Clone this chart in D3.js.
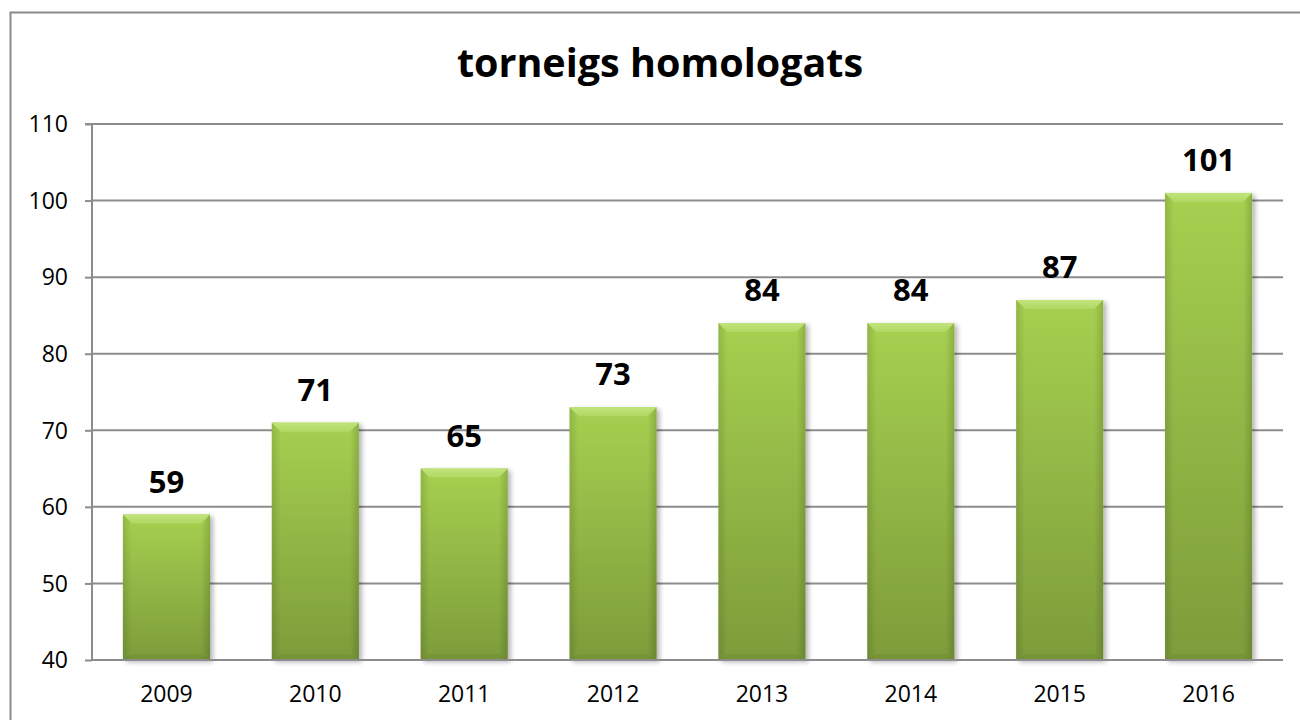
<!DOCTYPE html>
<html><head><meta charset="utf-8">
<script src="https://cdn.jsdelivr.net/npm/d3@7"></script>
<style>body{margin:0;background:#fff}svg{display:block}</style>
</head><body>
<svg id="c" width="1300" height="720"></svg>
<script>
const years = ["2009","2010","2011","2012","2013","2014","2015","2016"];
const counts = [59,71,65,73,84,84,87,101];
const yTicks = [40,50,60,70,80,90,100,110];
const title = "torneigs homologats";

(function(){
const svg = d3.select("#c");
const font = "'Open Sans', sans-serif";
const pL=92,pR=1283,pT=124,pB=660;

// outer border
svg.append("rect").attr("x",10.5).attr("y",12.5).attr("width",1300).attr("height",720)
  .attr("fill","#fff").attr("stroke","#8a8a8a").attr("stroke-width",2);

const defs = svg.append("defs");
const g1 = defs.append("linearGradient").attr("id","bar").attr("x1",0).attr("y1",0).attr("x2",0).attr("y2",1);
g1.append("stop").attr("offset","0%").attr("stop-color","#a6d050");
g1.append("stop").attr("offset","100%").attr("stop-color","#7d9c3a");
const gs = defs.append("linearGradient").attr("id","side").attr("x1",0).attr("y1",0).attr("x2",1).attr("y2",0);
gs.append("stop").attr("offset","0%").attr("stop-color","#000").attr("stop-opacity",0.12);
gs.append("stop").attr("offset","100%").attr("stop-color","#000").attr("stop-opacity",0);
const gr = defs.append("linearGradient").attr("id","sideR").attr("x1",1).attr("y1",0).attr("x2",0).attr("y2",0);
gr.append("stop").attr("offset","0%").attr("stop-color","#000").attr("stop-opacity",0.15);
gr.append("stop").attr("offset","100%").attr("stop-color","#000").attr("stop-opacity",0);
const gb = defs.append("linearGradient").attr("id","bev").attr("x1",0).attr("y1",0).attr("x2",0).attr("y2",1);
gb.append("stop").attr("offset","0%").attr("stop-color","#c2e47c");
gb.append("stop").attr("offset","100%").attr("stop-color","#afd862");
const f = defs.append("filter").attr("id","sh").attr("x","-20%").attr("y","-20%").attr("width","140%").attr("height","140%");
f.append("feGaussianBlur").attr("in","SourceAlpha").attr("stdDeviation",2.5).attr("result","b");
f.append("feOffset").attr("in","b").attr("dx",3).attr("dy",2).attr("result","o");
f.append("feComponentTransfer").attr("in","o").attr("result","o2").append("feFuncA").attr("type","linear").attr("slope",0.3);
const m = f.append("feMerge"); m.append("feMergeNode").attr("in","o2"); m.append("feMergeNode").attr("in","SourceGraphic");

const x = d3.scaleBand().domain(years).range([pL,pR]).paddingInner(0.415).paddingOuter(0.2075);
const y = d3.scaleLinear().domain([40,110]).range([pB,pT]);

// gridlines
svg.append("g").selectAll("line").data(yTicks.filter(t=>t>40)).join("line")
  .attr("x1",pL).attr("x2",pR).attr("y1",d=>y(d)).attr("y2",d=>y(d))
  .attr("stroke","#8c8c8c").attr("stroke-width",2);

// y axis
const ya = svg.append("g").attr("transform",`translate(${pL},0)`)
  .call(d3.axisLeft(y).tickValues(yTicks).tickSize(7).tickPadding(17).tickFormat(d3.format("d")));
ya.select(".domain").attr("stroke","#8c8c8c").attr("stroke-width",2).attr("d",`M-7,${pT}H0V${pB}`);
ya.selectAll(".tick line").attr("stroke","#8c8c8c").attr("stroke-width",2);
ya.selectAll(".tick text").attr("font-family",font).attr("font-size",23).attr("fill","#000").attr("dy","0.34em");

// bars
const bw = x.bandwidth();
const bars = svg.append("g").selectAll("g").data(years).join("g");
bars.each(function(d,i){
  const gg = d3.select(this);
  const x0 = x(d), yt = y(counts[i]), h = pB - yt;
  const b = 9;
  gg.append("rect").attr("x",x0).attr("y",yt).attr("width",bw).attr("height",h).attr("fill","url(#bar)").attr("filter","url(#sh)");
  gg.append("rect").attr("x",x0).attr("y",yt).attr("width",b).attr("height",h).attr("fill","url(#side)");
  gg.append("rect").attr("x",x0+bw-b).attr("y",yt).attr("width",b).attr("height",h).attr("fill","url(#sideR)");
  gg.append("path").attr("d",`M${x0},${yt}H${x0+bw}L${x0+bw-b},${yt+b}H${x0+b}Z`).attr("fill","url(#bev)");
  gg.append("path").attr("d",`M${x0},${pB}H${x0+bw}L${x0+bw-b},${pB-6}H${x0+b}Z`).attr("fill","#6d8a30").attr("opacity",0.4);
});

// x axis line
svg.append("line").attr("x1",pL).attr("x2",pR).attr("y1",pB).attr("y2",pB)
  .attr("stroke","#8c8c8c").attr("stroke-width",2);

// x labels
svg.append("g").selectAll("text").data(years).join("text")
  .attr("x",d=>x(d)+bw/2).attr("y",702).attr("text-anchor","middle")
  .attr("font-family",font).attr("font-size",23).attr("fill","#000").text(d=>d);

// value labels
svg.append("g").selectAll("text").data(years).join("text")
  .attr("x",d=>x(d)+bw/2).attr("y",(d,i)=>y(counts[i])-22).attr("text-anchor","middle")
  .attr("font-family",font).attr("font-weight","bold").attr("font-size",31).attr("fill","#000")
  .text((d,i)=>counts[i]);

// title
svg.append("text").attr("x",660).attr("y",77).attr("text-anchor","middle")
  .attr("font-family",font).attr("font-weight","bold").attr("font-size",39.5).attr("fill","#000").text(title);
})();
</script>
</body></html>
